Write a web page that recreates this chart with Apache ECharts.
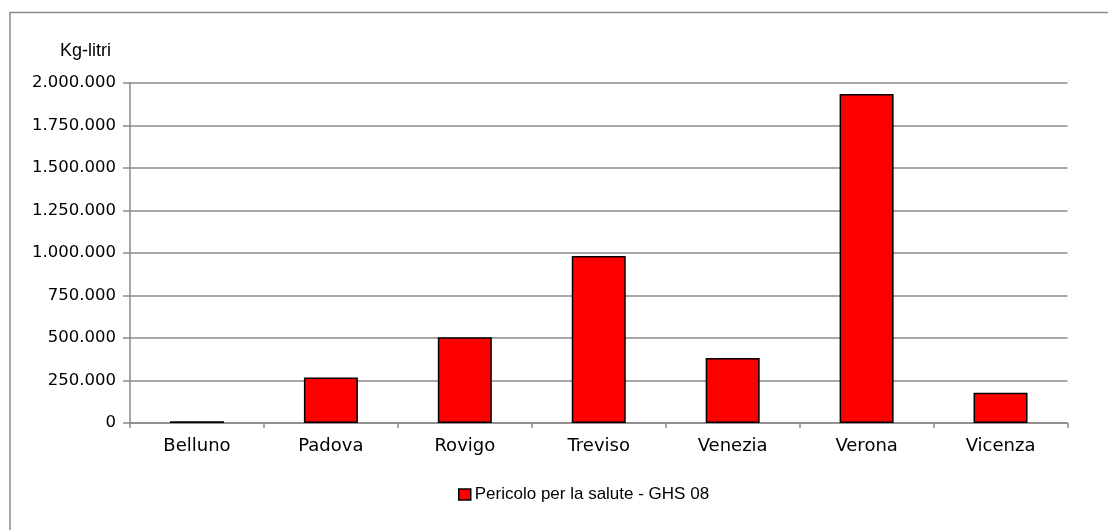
<!DOCTYPE html>
<html>
<head>
<meta charset="utf-8">
<script src="https://cdn.jsdelivr.net/npm/echarts@6/dist/echarts.min.js"></script>
<style>
html,body{margin:0;padding:0;background:#fff;}
#c{width:1108px;height:530px;}
</style>
</head>
<body>
<div id="c"></div>
<script>
const categories = ['Belluno', 'Padova', 'Rovigo', 'Treviso', 'Venezia', 'Verona', 'Vicenza'];
const seriesName = 'Pericolo per la salute - GHS 08';
const values = [10000, 268000, 505000, 982000, 382000, 1935000, 178000];
const yUnit = 'Kg-litri';

function fmt(v) {
  return String(v).replace(/\B(?=(\d{3})+(?!\d))/g, '.');
}

const chart = echarts.init(document.getElementById('c'), null, {renderer: 'canvas'});
chart.setOption({
  animation: false,
  backgroundColor: '#fff',
  graphic: [
    {
      type: 'rect',
      shape: {x: 10, y: 12.5, width: 1300, height: 700},
      style: {fill: 'none', stroke: '#8a8a8a', lineWidth: 1.5},
      silent: true, z: -1
    },
    {
      type: 'text',
      left: 60, top: 42,
      style: {text: yUnit, font: '18px "Liberation Sans"', fill: '#000'}
    }
  ],
  grid: {left: 130, right: 40.5, top: 83, bottom: 107, containLabel: false},
  legend: {
    data: [seriesName],
    left: 453, top: 481,
    itemWidth: 12, itemHeight: 11,
    itemGap: 4,
    icon: 'rect',
    itemStyle: {color: '#ff0000', borderColor: '#000', borderWidth: 1.5},
    textStyle: {fontFamily: 'Liberation Sans', fontSize: 17, color: '#000', padding: [0, 0, 0, -1]}
  },
  xAxis: {
    type: 'category',
    data: categories,
    axisLine: {lineStyle: {color: '#8a8a8a', width: 1.5}},
    axisTick: {show: true, length: 5, lineStyle: {color: '#8a8a8a', width: 1.5}},
    axisLabel: {fontFamily: 'DejaVu Sans', fontSize: 18, color: '#000', margin: 14}
  },
  yAxis: {
    type: 'value',
    min: 0, max: 2000000, interval: 250000,
    axisLine: {show: true, lineStyle: {color: '#8a8a8a', width: 1.5}},
    axisTick: {show: true, length: 7, lineStyle: {color: '#8a8a8a', width: 1.5}},
    splitLine: {lineStyle: {color: '#8a8a8a', width: 1.5}},
    axisLabel: {fontFamily: 'DejaVu Sans', fontSize: 16.5, color: '#000', margin: 14, formatter: fmt}
  },
  series: [{
    name: seriesName,
    type: 'bar',
    data: values,
    barWidth: 54,
    itemStyle: {color: '#ff0000', borderColor: '#000', borderWidth: 1.5}
  }]
});
</script>
</body>
</html>
